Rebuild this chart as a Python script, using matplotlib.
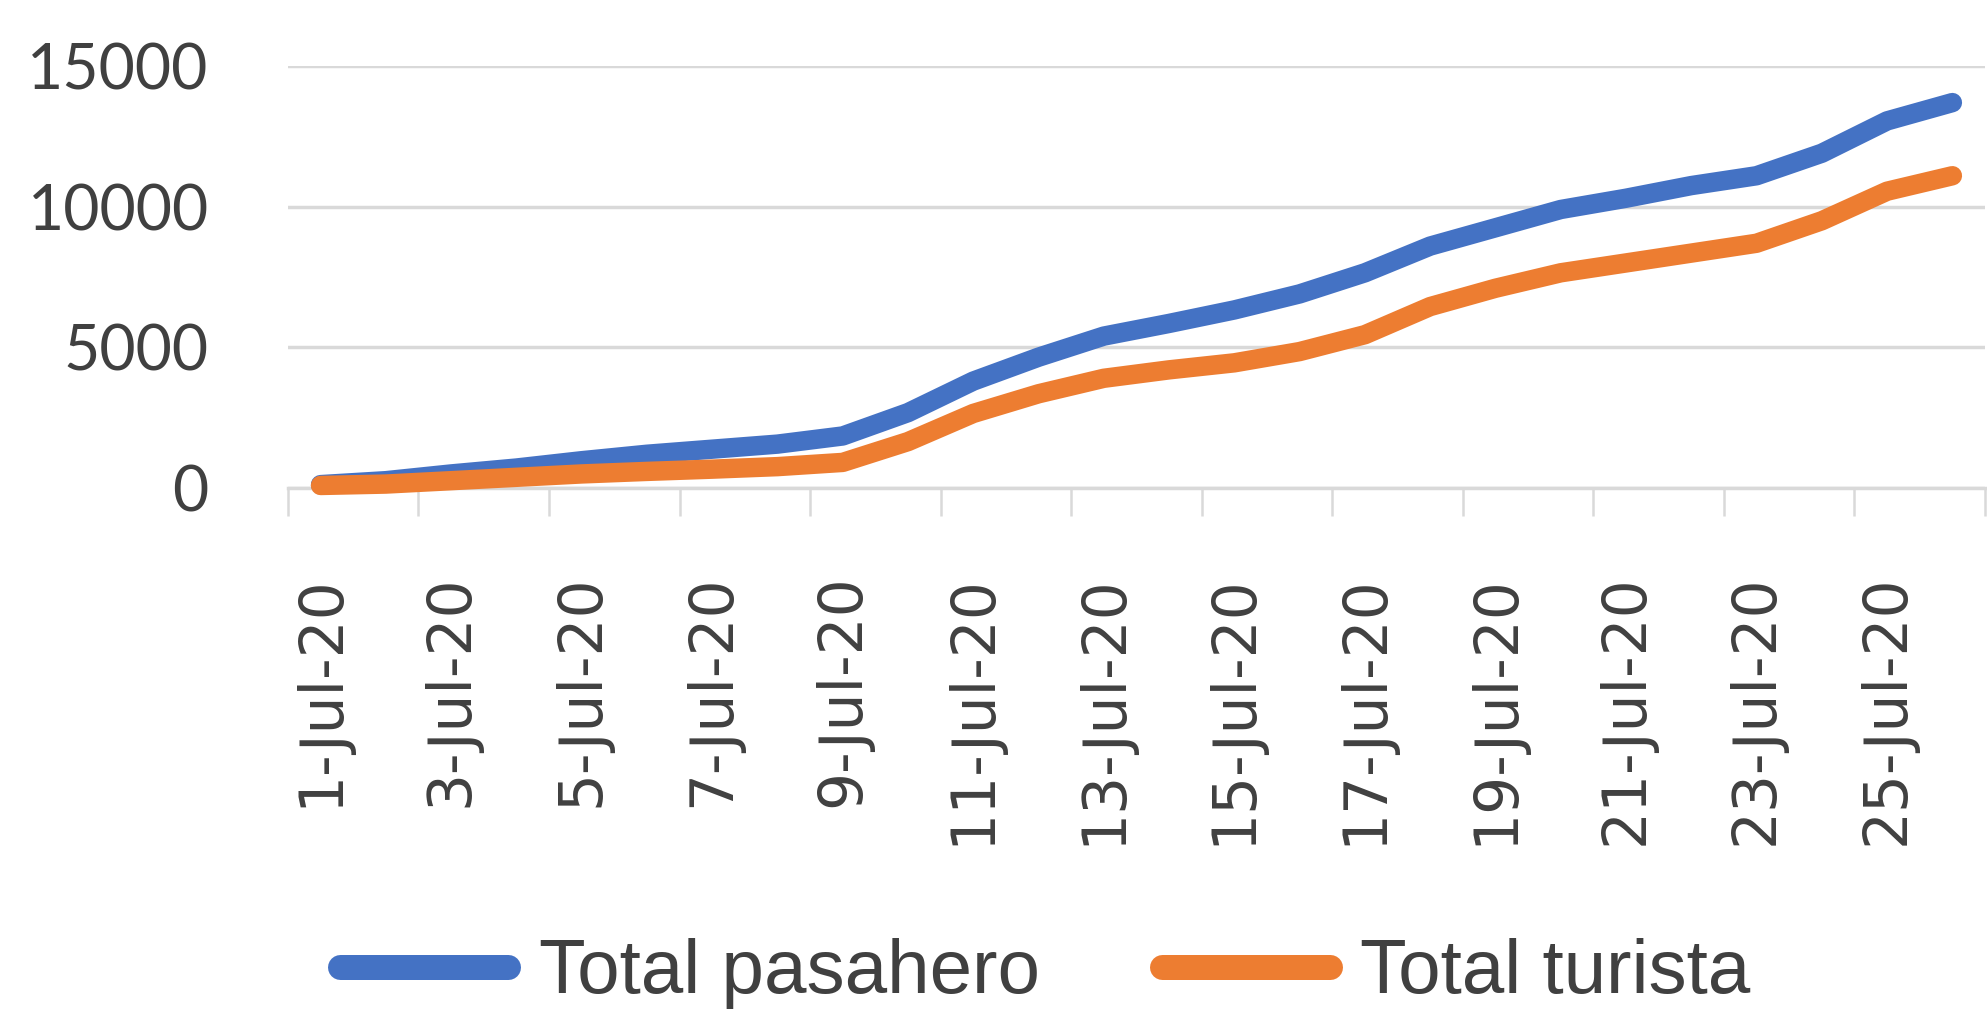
import matplotlib.pyplot as plt
from matplotlib.ticker import FixedLocator


# ---------------- DATA ---------------- #
dates = ["1-Jul-20", "2-Jul-20", "3-Jul-20", "4-Jul-20", "5-Jul-20",
         "6-Jul-20", "7-Jul-20", "8-Jul-20", "9-Jul-20", "10-Jul-20",
         "11-Jul-20", "12-Jul-20", "13-Jul-20", "14-Jul-20", "15-Jul-20",
         "16-Jul-20", "17-Jul-20", "18-Jul-20", "19-Jul-20", "20-Jul-20",
         "21-Jul-20", "22-Jul-20", "23-Jul-20", "24-Jul-20", "25-Jul-20",
         "26-Jul-20"]

total_pasahero = [120, 260, 500, 710, 970, 1200, 1380, 1560, 1850, 2680,
                  3800, 4650, 5400, 5850, 6330, 6900, 7650, 8600, 9250, 9900,
                  10300, 10750, 11100, 11900, 13050, 13700]

total_turista = [90, 140, 260, 380, 500, 590, 670, 760, 910, 1650,
                 2650, 3350, 3900, 4200, 4450, 4850, 5450, 6450, 7100, 7650,
                 8000, 8350, 8700, 9500, 10550, 11100]

y_ticks = [0, 5000, 10000, 15000]

blue = "#4472C4"
orange = "#ED7D31"
text_col = "#404040"
grid_col = "#D9D9D9"

x = list(range(1, len(dates) + 1))

# ---------------- FIGURE ---------------- #
fig = plt.figure(figsize=(19.87, 10.22), dpi=100)
ax = fig.add_axes([0.1449, 0.5225, 0.8541, 0.4129])

ax.plot(x, total_pasahero, color=blue, lw=14, solid_capstyle="round",
        solid_joinstyle="round", clip_on=False, label="Total pasahero", zorder=3)
ax.plot(x, total_turista, color=orange, lw=14, solid_capstyle="round",
        solid_joinstyle="round", clip_on=False, label="Total turista", zorder=4)

ax.set_xlim(0.5, len(dates) + 0.5)
ax.set_ylim(0, 15000)

# y axis
ax.set_yticks(y_ticks)
ax.set_yticklabels([str(v) for v in y_ticks], family="Lato", fontsize=45,
                   color=text_col)
ax.tick_params(axis="y", length=0, pad=57)
ax.grid(axis="y", color=grid_col, lw=2.5)
ax.set_axisbelow(True)

# x axis: labels every 2 days, tick marks between categories
ax.set_xticks(x[::2])
ax.set_xticklabels(dates[::2], rotation=90, family="DejaVu Sans",
                   fontsize=43, color=text_col)
ax.tick_params(axis="x", which="major", length=0, pad=62)
ax.xaxis.set_minor_locator(FixedLocator([v - 0.5 for v in x[::2]] + [len(dates) + 0.5]))
ax.tick_params(axis="x", which="minor", length=20, width=1.8, color=grid_col)

for s in ["top", "right", "left"]:
    ax.spines[s].set_visible(False)
ax.spines["bottom"].set_color(grid_col)
ax.spines["bottom"].set_linewidth(2.5)

# ---------------- LEGEND ---------------- #
leg = fig.legend(loc="center left", bbox_to_anchor=(0.1711, 0.047), ncol=2,
                 frameon=False, borderpad=0, borderaxespad=0,
                 handlelength=2.2, handletextpad=0.4, columnspacing=1.6,
                 prop={"family": "Liberation Sans", "size": 55})
for t in leg.get_texts():
    t.set_color(text_col)
for h in leg.get_lines():
    h.set_linewidth(18)
    h.set_solid_capstyle("round")

fig.savefig("out.png", dpi=100)
